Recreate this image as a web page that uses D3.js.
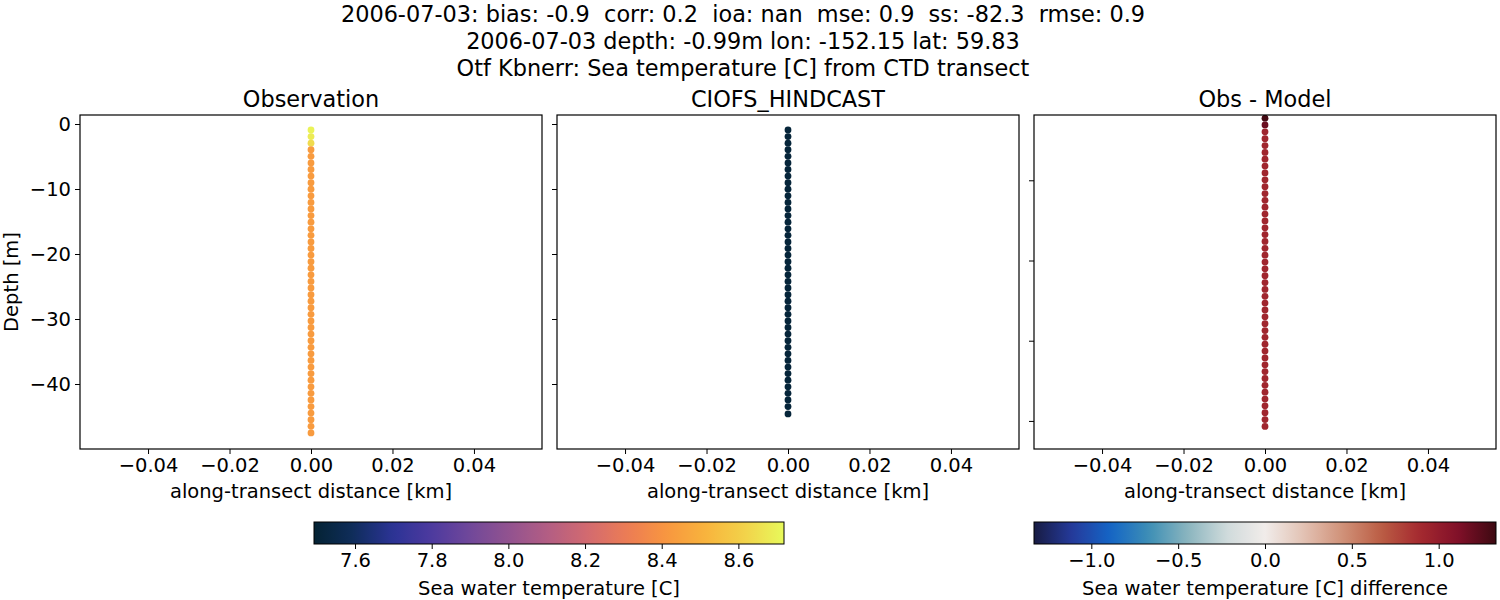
<!DOCTYPE html>
<html><head><meta charset="utf-8">
<script src="https://cdn.jsdelivr.net/npm/d3@7"></script>
<style>body{margin:0;background:#fff}text{font-family:"DejaVu Sans",sans-serif;fill:#000;white-space:pre}</style>
</head><body><svg id="c" width="1500" height="600"></svg>
<script>
const titleLines = ["2006-07-03: bias: -0.9  corr: 0.2  ioa: nan  mse: 0.9  ss: -82.3  rmse: 0.9",
  "2006-07-03 depth: -0.99m lon: -152.15 lat: 59.83",
  "Otf Kbnerr: Sea temperature [C] from CTD transect"];
const panelTitles = ["Observation","CIOFS_HINDCAST","Obs - Model"];
const obsDepth = [0.92,1.93,2.95,3.96,4.97,5.99,7.00,8.01,9.02,10.04,11.05,12.06,13.08,14.09,15.10,16.12,17.13,18.14,19.15,20.17,21.18,22.19,23.21,24.22,25.23,26.25,27.26,28.27,29.28,30.30,31.31,32.32,33.34,34.35,35.36,36.38,37.39,38.40,39.41,40.43,41.44,42.45,43.47,44.48,45.49,46.51,47.52];
const obsTemp = [8.70,8.68,8.64,8.43,8.43,8.43,8.43,8.43,8.43,8.43,8.43,8.43,8.43,8.43,8.43,8.43,8.43,8.43,8.43,8.43,8.43,8.43,8.43,8.43,8.43,8.43,8.43,8.43,8.43,8.43,8.43,8.43,8.43,8.43,8.43,8.43,8.43,8.43,8.43,8.43,8.43,8.43,8.43,8.43,8.43,8.43,8.43];
const modelDepth = [0.92,1.93,2.95,3.96,4.97,5.99,7.00,8.01,9.02,10.04,11.05,12.06,13.08,14.09,15.10,16.12,17.13,18.14,19.15,20.17,21.18,22.19,23.21,24.22,25.23,26.25,27.26,28.27,29.28,30.30,31.31,32.32,33.34,34.35,35.36,36.38,37.39,38.40,39.41,40.43,41.44,42.45,43.47,44.60];
const modelTemp = [7.51,7.51,7.51,7.51,7.51,7.51,7.51,7.51,7.51,7.51,7.51,7.51,7.51,7.51,7.51,7.51,7.51,7.51,7.51,7.51,7.51,7.51,7.51,7.51,7.51,7.51,7.51,7.51,7.51,7.51,7.51,7.51,7.51,7.51,7.51,7.51,7.51,7.51,7.51,7.51,7.51,7.51,7.51,7.51];
const diffDepth = [2.25,3.10,3.96,4.81,5.67,6.52,7.37,8.23,9.08,9.94,10.79,11.65,12.50,13.35,14.21,15.06,15.92,16.77,17.62,18.48,19.33,20.19,21.04,21.90,22.75,23.60,24.46,25.31,26.17,27.02,27.87,28.73,29.58,30.44,31.29,32.15,33.00,33.85,34.71,35.56,36.42,37.27,38.12,38.98,39.83,40.69];
const diffVal = [1.30,1.18,0.93,0.92,0.92,0.92,0.92,0.92,0.92,0.92,0.92,0.92,0.92,0.92,0.92,0.92,0.92,0.92,0.92,0.92,0.92,0.92,0.92,0.92,0.92,0.92,0.92,0.92,0.92,0.92,0.92,0.92,0.92,0.92,0.92,0.92,0.92,0.92,0.92,0.92,0.92,0.92,0.92,0.92,0.92,0.92];
const yTicks = [0,-10,-20,-30,-40];
const diffYTicks = [-10,-20,-30,-40];
const xTicks = [-0.04,-0.02,0,0.02,0.04];
const tempTicks = [7.6,7.8,8.0,8.2,8.4,8.6];
const diffTicks = [-1.0,-0.5,0.0,0.5,1.0];
const xLim = [-0.0567,0.0567];
const yLimMain = [-50.0,1.385];
const yLimDiff = [-43.5,-1.86];
const tempLim = [7.493,8.719];
const diffLim = [-1.33,1.33];

const thermalStops = ["#042333","#0f2d5b","#2b3395","#4d3a9f","#71489a","#93538f","#b45e83","#d36b6f","#ec7c55","#f8963f","#f8b43d","#f2d24a","#e8fa5b"];
const balanceStops = ["#181c43","#253a9c","#1466c6","#3e8fb5","#8bb5bf","#cfdadb","#f1ecea","#e2c2b4","#d19279","#bb5e45","#a52a2f","#821029","#3c0911"];
const thermal = d3.scaleLinear().domain(thermalStops.map((_,i)=>i/(thermalStops.length-1))).range(thermalStops).clamp(true);
const balance = d3.scaleLinear().domain(balanceStops.map((_,i)=>i/(balanceStops.length-1))).range(balanceStops).clamp(true);
const tNorm = d3.scaleLinear().domain(tempLim).range([0,1]);
const dNorm = d3.scaleLinear().domain(diffLim).range([0,1]);

const FS = 19.5, TS = 22.4;
const svg = d3.select("#c");
const fmt = v => (+v<0?"\u2212":"") + String(v).replace("-","");
titleLines.forEach((t,i)=>svg.append("text").attr("x",743).attr("y",22+i*27).attr("text-anchor","middle").attr("font-size",TS).attr("xml:space","preserve").text(t));

const panels = [
 {x0:80, depth:obsDepth, val:obsTemp, col:v=>thermal(tNorm(v)), yl:yLimMain, labels:true, ticks:yTicks},
 {x0:557, depth:modelDepth, val:modelTemp, col:v=>thermal(tNorm(v)), yl:yLimMain, labels:false, ticks:yTicks},
 {x0:1034, depth:diffDepth, val:diffVal, col:v=>balance(dNorm(v)), yl:yLimDiff, labels:false, ticks:diffYTicks}
];
const pTop=115, pBot=449, pW=462;
panels.forEach((p,pi)=>{
  const g = svg.append("g");
  const x = d3.scaleLinear().domain(xLim).range([p.x0,p.x0+pW]);
  const y = d3.scaleLinear().domain(p.yl).range([pBot,pTop]);
  const clipId="clip"+pi;
  svg.append("clipPath").attr("id",clipId).append("rect").attr("x",p.x0).attr("y",pTop).attr("width",pW).attr("height",pBot-pTop);
  g.append("g").attr("clip-path",`url(#${clipId})`).selectAll("circle").data(p.depth).join("circle")
    .attr("cx",x(0)).attr("cy",d=>y(-d)).attr("r",3.4).attr("fill",(d,i)=>p.col(p.val[i]));
  const xa = g.append("g").attr("transform",`translate(0,${pBot})`).call(d3.axisBottom(x).tickValues(xTicks).tickSize(5).tickPadding(4).tickFormat(v=>fmt(v.toFixed(2))));
  const ya = g.append("g").attr("transform",`translate(${p.x0},0)`).call(d3.axisLeft(y).tickValues(p.ticks).tickSize(5).tickPadding(4).tickFormat(p.labels?fmt:""));
  [xa,ya].forEach(a=>{a.select(".domain").remove();a.selectAll("text").attr("font-size",FS).style("font-family","DejaVu Sans");a.selectAll("line").attr("stroke","#000").attr("stroke-width",1);});
  g.append("rect").attr("x",p.x0).attr("y",pTop).attr("width",pW).attr("height",pBot-pTop).attr("fill","none").attr("stroke","#000").attr("stroke-width",1.2);
  g.append("text").attr("x",p.x0+pW/2).attr("y",107).attr("text-anchor","middle").attr("font-size",TS).text(panelTitles[pi]);
  g.append("text").attr("x",p.x0+pW/2).attr("y",498).attr("text-anchor","middle").attr("font-size",FS).text("along-transect distance [km]");
});
svg.append("text").attr("transform","translate(18,282) rotate(-90)").attr("text-anchor","middle").attr("font-size",FS).text("Depth [m]");

function colorbar(x0,x1,lim,cmap,ticks,label,tf){
  const id = "g"+x0;
  const grad = svg.append("defs").append("linearGradient").attr("id",id);
  d3.range(0,1.0001,0.02).forEach(t=>grad.append("stop").attr("offset",t).attr("stop-color",cmap(t)));
  svg.append("rect").attr("x",x0).attr("y",522).attr("width",x1-x0).attr("height",22).attr("fill",`url(#${id})`).attr("stroke","#000").attr("stroke-width",1);
  const s = d3.scaleLinear().domain(lim).range([x0,x1]);
  const a = svg.append("g").attr("transform","translate(0,544)").call(d3.axisBottom(s).tickValues(ticks).tickSize(5).tickPadding(4).tickFormat(tf));
  a.select(".domain").remove();
  a.selectAll("text").attr("font-size",FS).style("font-family","DejaVu Sans");
  svg.append("text").attr("x",(x0+x1)/2).attr("y",595).attr("text-anchor","middle").attr("font-size",FS).text(label);
}
colorbar(314,784,tempLim,thermal,tempTicks,"Sea water temperature [C]",v=>v.toFixed(1));
colorbar(1034,1496,diffLim,balance,diffTicks,"Sea water temperature [C] difference",v=>fmt(v.toFixed(1)));
</script></body></html>
